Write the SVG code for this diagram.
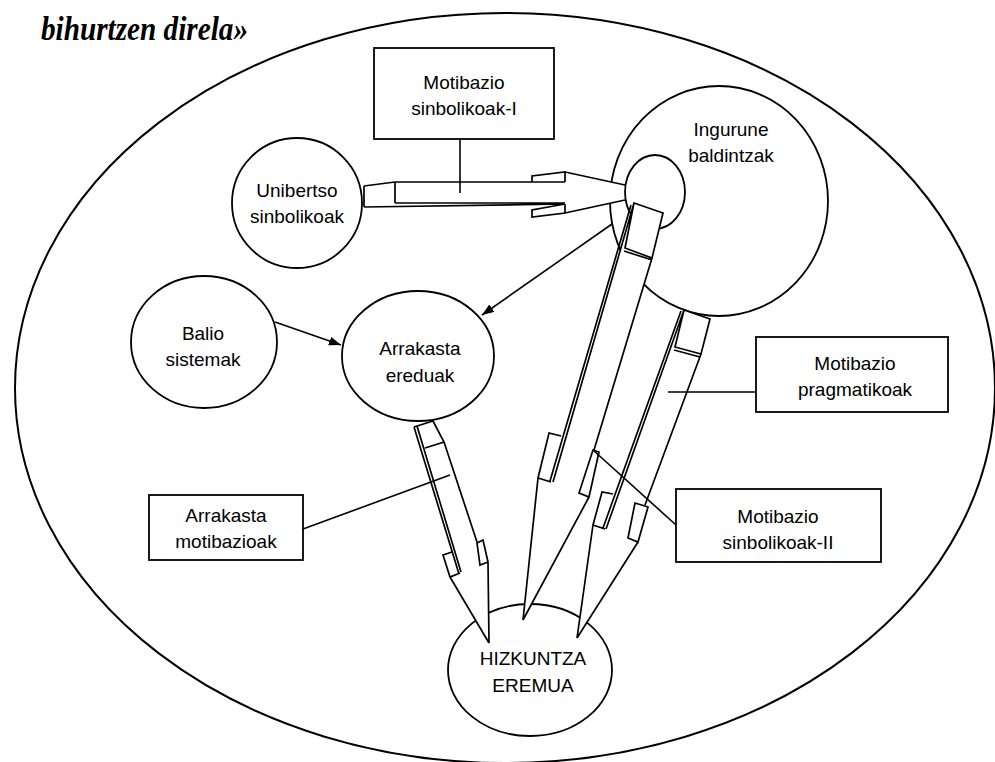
<svg xmlns="http://www.w3.org/2000/svg" width="995" height="762" viewBox="0 0 995 762">
<defs>
<style>
.frame{fill:#fff;stroke:#000;stroke-width:2}
.n{fill:#fff;stroke:#000;stroke-width:1.8}
.bx{fill:#fff;stroke:#000;stroke-width:1.8}
.af{fill:#fff;stroke:none}
.al{fill:none;stroke:#000;stroke-width:1.7;stroke-linejoin:miter}
.c{fill:none;stroke:#000;stroke-width:1.6}
.t{font-family:"Liberation Sans",Arial,sans-serif;font-size:19px;text-anchor:middle;fill:#000}
.title{font-family:"Liberation Serif","Times New Roman",serif;font-size:33px;font-weight:bold;font-style:italic;fill:#000}
</style>
<marker id="ah" markerUnits="userSpaceOnUse" markerWidth="14" markerHeight="10" refX="12" refY="4.5" orient="auto">
<path d="M0,0 L12,4.5 L0,9 Z" fill="#000"/>
</marker>
</defs>
<rect width="995" height="762" fill="#fff"/>
<text class="title" x="41" y="40" textLength="207" lengthAdjust="spacingAndGlyphs">bihurtzen direla»</text>
<ellipse id="eremua-frame" class="frame" cx="505" cy="388" rx="490" ry="375"/>

<g id="unibertso">
<ellipse class="n" cx="297" cy="203" rx="65" ry="65"/>
<text class="t" x="297" y="197">Unibertso</text>
<text class="t" x="297" y="223">sinbolikoak</text>
</g>
<g id="ingurune">
<ellipse class="n" cx="719" cy="201" rx="109" ry="115"/>
<text class="t" x="731" y="136">Ingurune</text>
<text class="t" x="731" y="162">baldintzak</text>
</g>
<g id="balio">
<ellipse class="n" cx="204" cy="342" rx="73" ry="66"/>
<text class="t" x="203" y="340">Balio</text>
<text class="t" x="203" y="366">sistemak</text>
</g>
<g id="arrakasta-ereduak">
<ellipse class="n" cx="418" cy="356" rx="76" ry="65"/>
<text class="t" x="420" y="355">Arrakasta</text>
<text class="t" x="420" y="382">ereduak</text>
</g>
<g id="hizkuntza">
<ellipse class="n" cx="530" cy="670" rx="82" ry="66"/>
<text class="t" x="533" y="665">HIZKUNTZA</text>
<text class="t" x="533" y="692">EREMUA</text>
</g>

<g id="connectors">
<g id="arrow-h">
<polygon class="af" points="364,186 395,182 532,182 532,176 565,172 625,185 625,200 565,213 532,217 532,210 565,205 364,207"/>
<path class="al" d="M364,186 L395,182 L565,182 M364,186 L364,207 M395,182 L395,203 M364,207 L565,204 M395,203 L565,203 M532,182 L532,176 L565,172 L565,182 M565,204 L532,210 L532,217 L565,213 L565,204 M565,172 L625,185 M565,213 L625,200"/>
</g>
<ellipse id="ingurune-core" class="n" cx="655" cy="192" rx="30" ry="37"/>
<g id="arrow-a">
<polygon class="af" points="414,427 433,421 444,442 477,542 483,540 488,562 489,643 450,577 443,555 452,552"/>
<path class="al" d="M414,427 L433,421 L444,442 L425,448 M414,427 L459,574 M417,426 L461,572 M452,552 L443,555 L450,577 L460,573 M450,577 L489,643 M444,442 L477,542 M477,543 L483,540 L488,562 L480,565 Z M488,562 L489,643"/>
</g>
<g id="arrow-b">
<polygon class="af" points="634,203 663,213 652,258 594,450 599,452 589,497 523,620 538,478 549,433 567,433"/>
<path class="al" d="M634,203 L663,213 L652,258 L625,248 Z M624,251 L652,260 M634,203 L553,482 M631,205 L550,481 M561,436 L549,433 L538,478 L551,482 M538,478 L523,620 M652,258 L594,450 M593,450 L599,452 L589,497 L579,493 Z M589,497 L523,620"/>
</g>
<g id="arrow-c">
<polygon class="af" points="684,310 710,319 701,354 645,505 648,507 638,542 577,638 593,525 602,492 618,492"/>
<path class="al" d="M684,310 L710,319 L701,354 L675,347 Z M674,350 L700,357 M684,310 L606,529 M681,311 L603,528 M613,494 L602,492 L593,525 L605,529 M593,525 L577,638 M701,354 L645,505 M635,503 L648,507 L638,542 L628,538 Z M638,542 L577,638"/>
</g>
<path class="c" d="M460,139 L460,193"/>
<path class="c" d="M756,392 L668,392"/>
<path class="c" d="M676,525 L593,450"/>
<path class="c" d="M303,529 L450,475"/>
<path class="c" d="M275,322 L341,345" marker-end="url(#ah)"/>
<path class="c" d="M612,224 L482,315" marker-end="url(#ah)"/>
</g>

<g id="motibazio-sinbolikoak-1">
<rect class="bx" x="374" y="48" width="180" height="91"/>
<text class="t" x="464" y="89">Motibazio</text>
<text class="t" x="464" y="115">sinbolikoak-I</text>
</g>
<g id="motibazio-pragmatikoak">
<rect class="bx" x="756" y="337" width="192" height="75"/>
<text class="t" x="855" y="370">Motibazio</text>
<text class="t" x="855" y="396">pragmatikoak</text>
</g>
<g id="arrakasta-motibazioak">
<rect class="bx" x="149" y="495" width="154" height="65"/>
<text class="t" x="226" y="522">Arrakasta</text>
<text class="t" x="226" y="548">motibazioak</text>
</g>
<g id="motibazio-sinbolikoak-2">
<rect class="bx" x="676" y="489" width="205" height="73"/>
<text class="t" x="778" y="523">Motibazio</text>
<text class="t" x="778" y="549">sinbolikoak-II</text>
</g>
</svg>
